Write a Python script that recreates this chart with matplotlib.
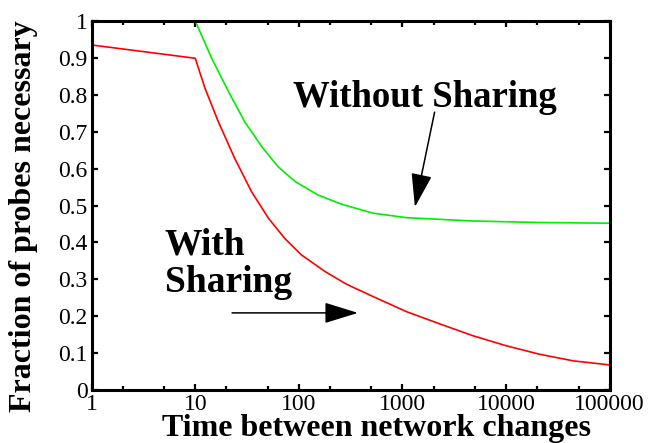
import matplotlib
matplotlib.use("Agg")
import matplotlib.pyplot as plt
from matplotlib.ticker import FixedLocator, FixedFormatter, LogLocator, NullFormatter

# values
red_x = [1, 10, 12.4, 16.7, 24, 35, 51, 73, 106, 179, 279, 324, 523, 1100, 2300,
         4800, 10000, 21000, 44500, 100000]
red_y = [0.935, 0.899, 0.818, 0.727, 0.628, 0.537, 0.465, 0.411, 0.366, 0.321, 0.289,
         0.280, 0.253, 0.212, 0.179, 0.147, 0.120, 0.097, 0.079, 0.068]

green_x = [10, 14.4, 21, 30, 44, 63, 92, 154, 250, 311, 523, 1100, 4800, 21000, 100000]
green_y = [1.0, 0.899, 0.808, 0.727, 0.659, 0.605, 0.565, 0.528, 0.505, 0.497, 0.479,
           0.467, 0.458, 0.454, 0.452]

x_ticks = [1, 10, 100, 1000, 10000, 100000]
x_labels = ["1", "10", "100", "1000", "10000", "100000"]
y_ticks = [0, 0.1, 0.2, 0.3, 0.4, 0.5, 0.6, 0.7, 0.8, 0.9, 1]
y_labels = ["0", "0.1", "0.2", "0.3", "0.4", "0.5", "0.6", "0.7", "0.8", "0.9", "1"]

plt.rcParams['font.family'] = ['Liberation Serif', 'DejaVu Serif']

fig = plt.figure(figsize=(6.5, 4.43), dpi=100)
ax = fig.add_axes([0.141, 0.1196, 0.797, 0.833])

ax.plot(green_x, green_y, color='#00ee00', lw=1.2)
ax.plot(red_x, red_y, color='#ff0000', lw=1.2)

ax.set_xscale('log')
ax.set_xlim(1, 100000)
ax.set_ylim(0, 1)

ax.xaxis.set_major_locator(FixedLocator(x_ticks))
ax.xaxis.set_major_formatter(FixedFormatter(x_labels))
ax.xaxis.set_minor_locator(LogLocator(base=10, subs=(2, 5)))
ax.xaxis.set_minor_formatter(NullFormatter())
ax.yaxis.set_major_locator(FixedLocator(y_ticks))
ax.yaxis.set_major_formatter(FixedFormatter(y_labels))

ax.tick_params(which='both', direction='in', top=True, right=True, width=1.6)
ax.tick_params(which='major', length=4, labelsize=17, pad=3)
ax.tick_params(which='minor', length=3)
for s in ax.spines.values():
    s.set_linewidth(2.2)

ax.set_xlabel('Time between network changes', fontsize=23, fontweight='bold',
              labelpad=-1, x=0.5495)
ax.set_ylabel('Fraction of probes necessary', fontsize=23, fontweight='bold')
ax.yaxis.set_label_coords(-0.1035, 0.4715)

# annotations
ax.text(0.388, 0.768, 'Without Sharing', transform=ax.transAxes, fontsize=26.5,
        fontweight='bold', ha='left', va='baseline')
ax.text(0.141, 0.366, 'With', transform=ax.transAxes, fontsize=27,
        fontweight='bold', ha='left', va='baseline')
ax.text(0.141, 0.266, 'Sharing', transform=ax.transAxes, fontsize=27,
        fontweight='bold', ha='left', va='baseline')

arrow = dict(arrowstyle='-|>,head_length=21,head_width=6.5', mutation_scale=1,
             color='black', lw=1.1, shrinkA=0, shrinkB=0)
ax.annotate('', xy=(0.624, 0.496), xytext=(0.662, 0.753),
            xycoords='axes fraction', textcoords='axes fraction', arrowprops=arrow)
ax.annotate('', xy=(0.514, 0.209), xytext=(0.271, 0.209),
            xycoords='axes fraction', textcoords='axes fraction', arrowprops=arrow)

fig.savefig('out.png', dpi=100)
